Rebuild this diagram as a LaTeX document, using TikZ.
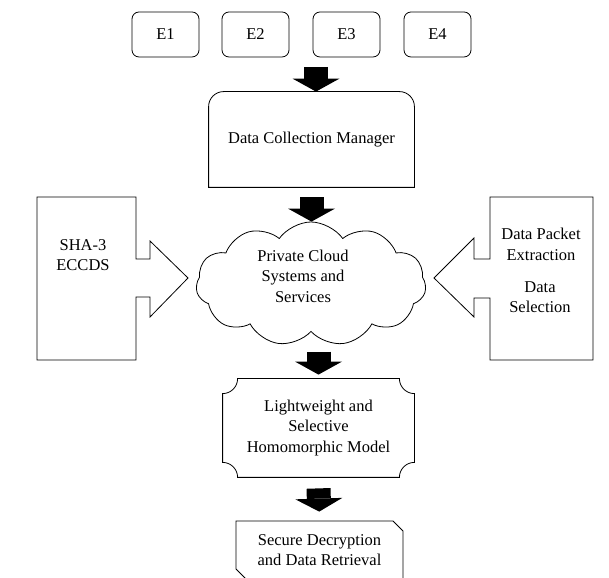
\documentclass[tikz,border=0pt]{standalone}
\usepackage{fontspec}
\setmainfont{Liberation Serif}
\usetikzlibrary{arrows.meta,shapes.symbols,shapes.misc}
\begin{document}
\begin{tikzpicture}[x=1pt, y=1pt, line width=0.8pt,
    every node/.style={font=\fontsize{16.5}{20.5}\selectfont, align=center},
    ebox/.style={draw, rounded corners=7pt, minimum width=67pt, minimum height=45pt},
    bigarrow/.style={line width=24pt, -{Triangle[width=47pt, length=13pt, line width=0pt]}, shorten <=10pt}]
    \clip (0,0) rectangle (609,577);
    \foreach \i/\x in {1/165.5,2/255.5,3/346.5,4/437.5}
    \node[ebox] (e\i) at (\x,542.5) {E\i};
    \coordinate (erow) at (316,520);
    \node[minimum width=205pt, minimum height=95pt] (dcm) at (311.5,437.5) {Data Collection Manager};
    \draw (dcm.south west) -- ([yshift=-15pt]dcm.north west) arc[start angle=180, end angle=90, radius=15pt]
        -- ([xshift=-15pt]dcm.north east) arc[start angle=90, end angle=0, radius=15pt] -- (dcm.south east) -- cycle;
    \node[cloud, draw, cloud puffs=11, cloud puff arc=110, minimum width=230pt, minimum height=124pt] (cloud) at (311,293) {};
    \node (pcs) at (303,301) {Private Cloud\\Systems and\\Services};
    \draw (136,318) -- (150,318) -- (150,336) -- (188,299) -- (150,260) -- (150,280) -- (136,280)
        -- (136,217) -- (37,217) -- (37,380) -- (136,380) -- cycle;
    \node (sha) at (83,322) {SHA-3\\ECCDS};
    \draw (490,318) -- (474,318) -- (474,339) -- (434,299) -- (474,260) -- (474,279) -- (490,279)
        -- (490,217) -- (593,217) -- (593,380) -- (490,380) -- cycle;
    \node (dpe) at (541,332.5) {Data Packet\\Extraction};
    \node (dsel) at (540,280) {Data\\Selection};
    \node[minimum width=191pt, minimum height=98pt] (lhm) at (318.5,149) {Lightweight and\\Selective\\Homomorphic Model};
    \draw ([yshift=-15pt]lhm.north west) arc[start angle=270, end angle=360, radius=15pt]
        -- ([xshift=-15pt]lhm.north east) arc[start angle=180, end angle=270, radius=15pt]
        -- ([yshift=15pt]lhm.south east) arc[start angle=90, end angle=180, radius=15pt]
        -- ([xshift=15pt]lhm.south west) arc[start angle=0, end angle=90, radius=15pt] -- cycle;
    \node[draw, chamfered rectangle, chamfered rectangle corners={north east,south west}, chamfered rectangle xsep=7pt,
        minimum width=167pt, minimum height=58pt] (sdr) at (319.5,27) {Secure Decryption\\and Data Retrieval};
    \draw[bigarrow] (erow) -- (erow |- dcm.north);
    \draw[bigarrow] (dcm.south) -- (dcm.south |- cloud.north);
    \draw[bigarrow, shorten <=0pt, shorten >=4pt] ([yshift=27pt]lhm.north) -- (lhm.north);
    \draw[bigarrow, shorten <=0pt, shorten >=9pt] ([yshift=-11pt]lhm.south) -- (sdr.north);
\end{tikzpicture}
\end{document}
